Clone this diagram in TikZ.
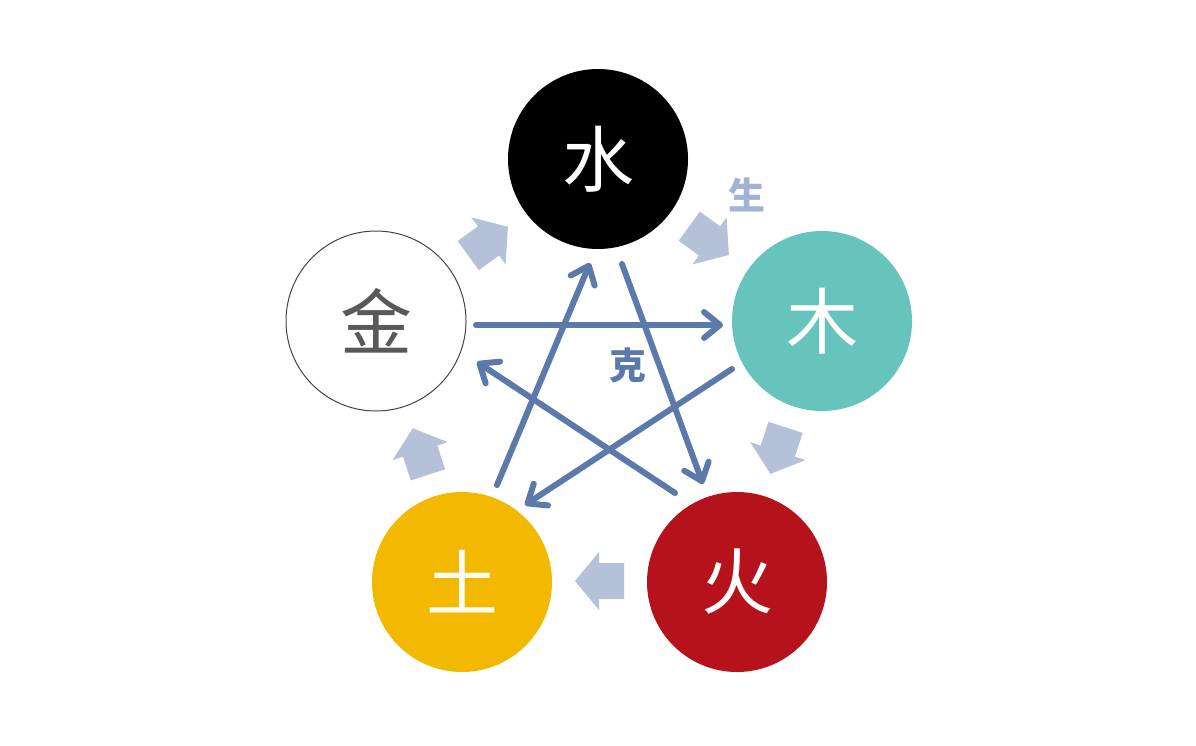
\documentclass[tikz,border=0pt]{standalone}
\usepackage{fontspec}
\newfontfamily\cjk{Noto Sans CJK SC}
\usetikzlibrary{arrows.meta,calc}
\definecolor{kecol}{HTML}{5B7AA9}
\definecolor{shengcol}{HTML}{B5C0D9}
\definecolor{shengtxt}{HTML}{A3B2D0}
\definecolor{mucol}{HTML}{67C4BD}
\definecolor{huocol}{HTML}{B5121B}
\definecolor{tucol}{HTML}{F2B900}
\definecolor{jinline}{HTML}{444444}
\begin{document}
\begin{tikzpicture}[x=1pt,y=-1pt,
  element/.style={circle, minimum size=180pt, inner sep=0pt, outer sep=0pt,
    font=\cjk\fontsize{72}{72}\selectfont},
  kearrow/.style={draw=kecol, line width=6pt, line cap=round,
    -{Straight Barb[length=16pt,width=26pt,round]}},
  blockarrow/.style={fill=shengcol},
  label/.style={font=\cjk\bfseries\fontsize{37}{37}\selectfont, inner sep=0pt}]
\useasboundingbox (0,0) rectangle (1196,745);
\fill[white] (0,0) rectangle (1196,745);

% elements
\node[element, fill=black, text=white] (shui) at (598,159) {水};
\node[element, fill=mucol, text=white] (mu) at (822,321) {木};
\node[element, fill=huocol, text=white] (huo) at (737,582) {火};
\node[element, fill=tucol, text=white!95!yellow] (tu) at (462,582) {土};
\node[element, draw=jinline, line width=1pt, fill=white, text=black!65] (jin) at (376,321) {金};

% sheng cycle (block arrows)
\foreach \a in {-54,18,90,162,234} {
  \fill[blockarrow, shift={({599+188*cos(\a)},{393+188*sin(\a)})}, rotate=-(\a+90)]
    (-25,-18) -- (0,-18) -- (0,-29) -- (24,0) -- (0,29) -- (0,18) -- (-25,18) -- cycle;
}

% ke cycle (star)
\draw[kearrow] ($(jin)+(100,4)$) -- ($(mu)+(-99,4)$);
\draw[kearrow] ($(mu)+(-90,48)$) -- ($(tu)+(63,-77)$);
\draw[kearrow] ($(tu)+(35,-97)$) -- ($(shui)+(-8,104)$);
\draw[kearrow] ($(shui)+(24,105)$) -- ($(huo)+(-34,-98)$);
\draw[kearrow] ($(huo)+(-62,-89)$) -- ($(jin)+(101,41)$);

% labels
\node[label, text=shengtxt] (shenglabel) at (747,195) {生};
\node[label, text=kecol] (kelabel) at (628,365) {克};
\end{tikzpicture}
\end{document}
